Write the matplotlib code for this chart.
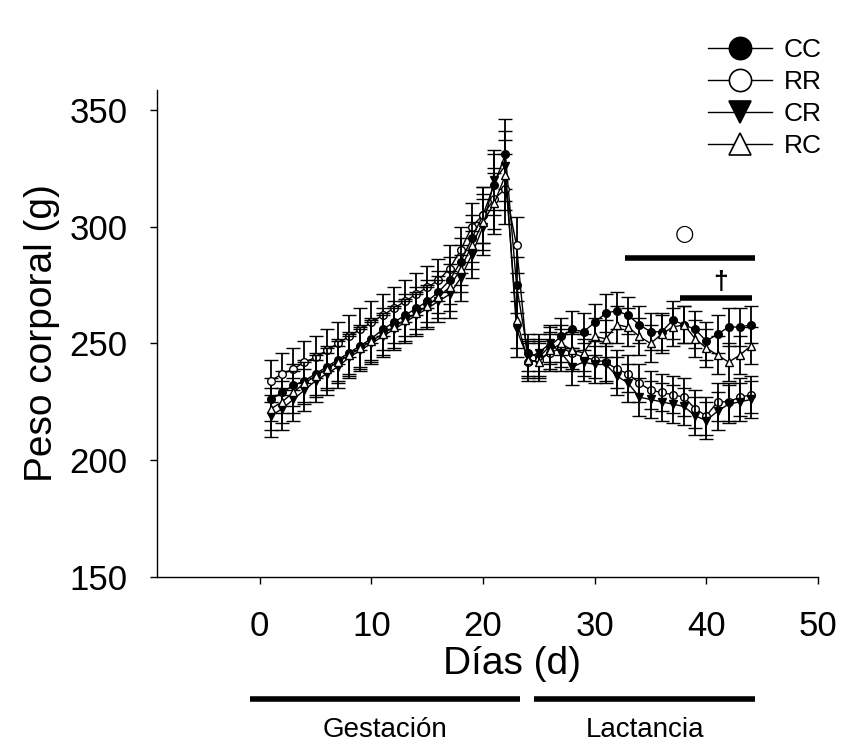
import matplotlib
matplotlib.use("Agg")
import matplotlib.pyplot as plt
from matplotlib.lines import Line2D
import matplotlib.transforms as mtransforms

plt.rcParams['font.family'] = ['Liberation Sans', 'DejaVu Sans']

days = list(range(1, 45))

cc = [226, 229, 232, 234, 237, 240, 243, 246, 249, 252, 256, 259, 262, 265, 268, 272, 277, 285, 295, 305, 318, 331,
      275,
      246, 244, 249, 253, 256, 255, 259, 263, 264, 262, 258, 255, 255, 260, 258, 256, 251, 254, 257, 257, 258]
rr = [234, 237, 239, 242, 244, 247, 250, 253, 256, 259, 262, 265, 268, 271, 274, 277, 282, 290, 300, 305, 312, 316,
      292,
      242, 243, 246, 248, 246, 244, 243, 242, 239, 237, 233, 230, 229, 228, 227, 222, 219, 225, 225, 227, 228]
cr = [219, 222, 226, 230, 234, 237, 240, 244, 247, 250, 253, 256, 259, 262, 265, 268, 271, 278, 288, 300, 320, 326,
      256,
      244, 246, 250, 246, 240, 242, 241, 241, 236, 233, 227, 226, 225, 224, 223, 219, 217, 221, 224, 225, 226]
rc = [222, 225, 229, 233, 236, 239, 242, 245, 248, 251, 254, 257, 260, 263, 266, 270, 274, 282, 292, 302, 310, 322,
      260,
      243, 242, 247, 250, 247, 246, 253, 252, 258, 257, 253, 250, 254, 257, 258, 252, 248, 245, 242, 245, 249]
sem = [9, 9, 9, 9, 9, 9, 9, 9, 9, 9, 9, 9, 9, 9, 9, 9, 10, 10, 10, 12, 13, 15,
       12,
       8, 8, 8, 8, 8, 8, 8, 8, 8, 8, 8, 8, 8, 8, 8, 8, 8, 8, 8, 8, 8]

series = [
    ("CC", cc, 'o', 'black'),
    ("RR", rr, 'o', 'white'),
    ("CR", cr, 'v', 'black'),
    ("RC", rc, '^', 'white'),
]

xticks = [0, 10, 20, 30, 40, 50]
yticks = [150, 200, 250, 300, 350]

fig = plt.figure(figsize=(8.42, 7.45), dpi=100)
ax = fig.add_axes([157/842, 1-577/745, (818-157)/842, (577-90)/745])

for i, (name, vals, mk, fc) in enumerate(series):
    ax.errorbar(days, vals, yerr=sem, fmt='-', color='black', lw=1.0,
                marker=mk, ms=5.5, mfc=fc, mec='black', mew=1.0,
                ecolor='black', elinewidth=1.3, capsize=5, capthick=1.3,
                zorder=3 + i)

ax.set_xlim(-9.2, 50)
ax.set_ylim(150, 358.5)
ax.set_xticks(xticks)
ax.set_yticks(yticks)
ax.spines['top'].set_visible(False)
ax.spines['right'].set_visible(False)
for s in ('left', 'bottom'):
    ax.spines[s].set_linewidth(1.0)
ax.tick_params(axis='both', direction='out', length=5, width=1.0, labelsize=25)
ax.tick_params(axis='x', pad=19)
ax.tick_params(axis='y', pad=16)

ax.set_xlabel("Días (d)", fontsize=28)
ax.xaxis.set_label_coords((512-157)/661, (577-646)/487)
ax.set_ylabel("Peso corporal (g)", fontsize=28)
ax.yaxis.set_label_coords((60-157)/661, 0.5)

# significance annotations
ax.plot([32.7, 44.4], [286.6, 286.6], color='black', lw=4, solid_capstyle='butt', clip_on=False)
ax.text(38.0, 297, "○", fontsize=16, ha='center', va='center', family=['DejaVu Sans'])
ax.plot([37.6, 44.1], [269.5, 269.5], color='black', lw=4, solid_capstyle='butt', clip_on=False)
ax.text(41.3, 276.5, "†", fontsize=19, ha='center', va='center', fontweight='bold')

# period bars below the axis
trans = mtransforms.blended_transform_factory(ax.transData, fig.transFigure)
yb = 1 - 699/745
ax.plot([-0.9, 23.3], [yb, yb], color='black', lw=4, transform=trans, clip_on=False, solid_capstyle='butt')
ax.plot([24.6, 44.4], [yb, yb], color='black', lw=4, transform=trans, clip_on=False, solid_capstyle='butt')
ax.text(11.2, 1 - 730/745, "Gestación", fontsize=20, ha='center', va='center', transform=trans)
ax.text(34.5, 1 - 730/745, "Lactancia", fontsize=20, ha='center', va='center', transform=trans)

handles = [Line2D([0], [0], color='black', lw=1.0, marker=mk, ms=16, mfc=fc, mec='black', mew=1.2)
           for (name, vals, mk, fc) in series]
labels = [s[0] for s in series]
fig.legend(handles, labels, loc='upper left', bbox_to_anchor=(695/842, 1 - 25/745),
           frameon=False, fontsize=19, handlelength=2.4, handletextpad=0.45,
           labelspacing=0.3, borderpad=0)

fig.savefig("out.png", dpi=100)
